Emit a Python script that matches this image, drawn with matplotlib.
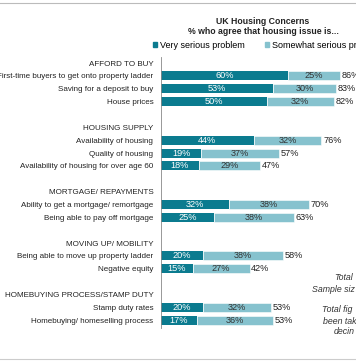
import matplotlib.pyplot as plt
from matplotlib.patches import Patch
from matplotlib.lines import Line2D

plt.rcParams['font.family'] = ['Liberation Sans', 'DejaVu Sans']

# rows from top to bottom; headers and spacer rows have no bars
labels = ["AFFORD TO BUY",
          "First-time buyers to get onto property ladder",
          "Saving for a deposit to buy",
          "House prices",
          "",
          "HOUSING SUPPLY",
          "Availability of housing",
          "Quality of housing",
          "Availability of housing for over age 60",
          "",
          "MORTGAGE/ REPAYMENTS",
          "Ability to get a mortgage/ remortgage",
          "Being able to pay off mortgage",
          "",
          "MOVING UP/ MOBILITY",
          "Being able to move up property ladder",
          "Negative equity",
          "",
          "HOMEBUYING PROCESS/STAMP DUTY",
          "Stamp duty rates",
          "Homebuying/ homeselling process"]
very_serious = [None, 60, 53, 50, None, None, 44, 19, 18, None,
                None, 32, 25, None, None, 20, 15, None, None, 20, 17]
somewhat_serious = [None, 25, 30, 32, None, None, 32, 37, 29, None,
                    None, 38, 38, None, None, 38, 27, None, None, 32, 36]
totals = [None, 86, 83, 82, None, None, 76, 57, 47, None,
          None, 70, 63, None, None, 58, 42, None, None, 53, 53]

dark = '#0b7b8f'
light = '#86c2ce'
fs = 5.8
fs_bar = 6.6

fig = plt.figure(figsize=(3.56, 3.64), dpi=100)
W, H = 356, 364
ax = fig.add_axes([161 / W, 1 - 328 / H, 1 - 161 / W, (328 - 57) / H])

rows = list(range(len(labels)))
for i in rows:
    if very_serious[i] is None:
        continue
    v, s = very_serious[i], somewhat_serious[i]
    ax.barh(i, v, height=0.7, color=dark)
    ax.barh(i, s, left=v, height=0.7, color=light, edgecolor='white', linewidth=0.4)
    ax.text(v / 2, i, f"{v}%", ha='center', va='center', color='white', fontsize=fs_bar)
    ax.text(v + s / 2, i, f"{s}%", ha='center', va='center', color='#333333', fontsize=fs_bar)
    ax.text(v + s + 0.8, i, f"{totals[i]}%", ha='left', va='center', color='#222222', fontsize=fs_bar)

ax.set_ylim(20.6, -0.47)
ax.set_xlim(0, (W - 161) / 2.11)
ax.set_yticks(rows)
ax.set_yticklabels(labels, fontsize=fs, color='#222222')
ax.tick_params(axis='y', length=0, pad=5.5)
ax.set_xticks([])
for side in ['top', 'right', 'bottom']:
    ax.spines[side].set_visible(False)
ax.spines['left'].set_color('#888888')
ax.spines['left'].set_linewidth(0.6)

fig.text(263 / W, 1 - 21 / H, "UK Housing Concerns", ha='center', va='center',
         fontsize=6.3, fontweight='bold', color='#222222')
fig.text(263 / W, 1 - 32 / H, "% who agree that housing issue is...", ha='center', va='center',
         fontsize=6.3, fontweight='bold', color='#222222')

handles = [Patch(color=dark), Patch(color=light)]
fig.legend(handles, ["Very serious problem", "Somewhat serious problem"],
           loc='center left', bbox_to_anchor=(153 / W, 1 - 45 / H), ncol=2,
           frameon=False, fontsize=6.5, handlelength=0.45, handleheight=0.45,
           handletextpad=0.3, columnspacing=2.3, borderpad=0, borderaxespad=0)

# notes on the right, cut off by the image edge in the source
note_kw = dict(fontsize=6.3, style='italic', color='#333333', va='center', ha='left')
fig.text(334 / W, 1 - 278 / H, "Total", **note_kw)
fig.text(312 / W, 1 - 289 / H, "Sample siz", **note_kw)
fig.text(322 / W, 1 - 310 / H, "Total fig", **note_kw)
fig.text(323 / W, 1 - 321 / H, "been tak", **note_kw)
fig.text(334 / W, 1 - 332 / H, "decin", **note_kw)

# light rules at top and bottom of the panel
fig.add_artist(Line2D([0, 1], [1 - 3 / H, 1 - 3 / H], color='#bbbbbb', linewidth=0.8))
fig.add_artist(Line2D([0, 1], [1 - 359 / H, 1 - 359 / H], color='#cccccc', linewidth=0.8))

fig.savefig('out.png', dpi=100)
